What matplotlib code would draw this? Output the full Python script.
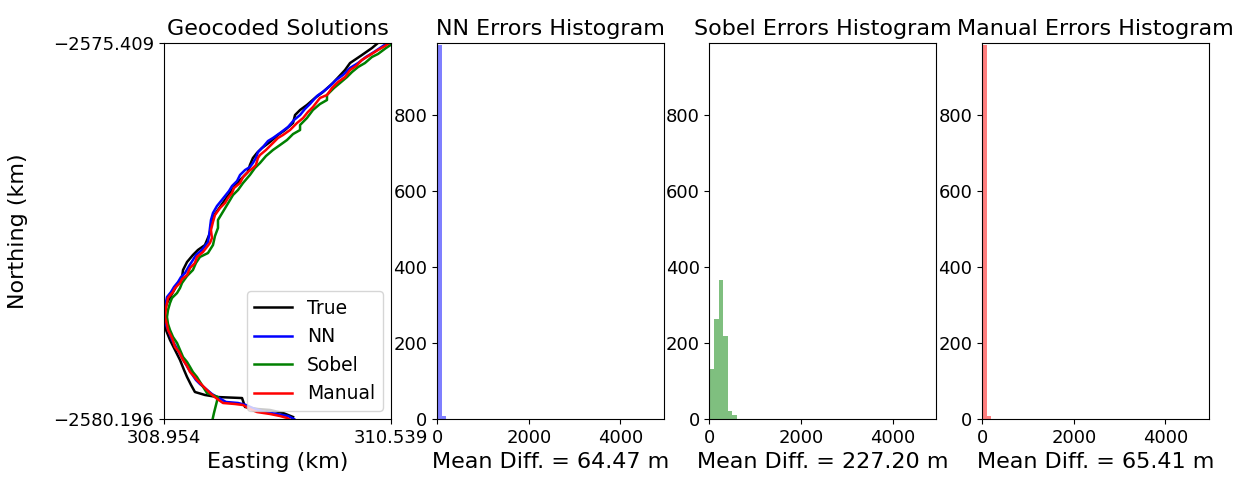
import numpy as np
import matplotlib
matplotlib.use("Agg")
import matplotlib.pyplot as plt

# ---- Geocoded track coordinates (km) ----
true_e = [310.490, 310.406, 310.336, 310.253, 310.218, 310.134, 310.064, 310.008, 309.952, 309.904,
          309.869, 309.855, 309.799, 309.750, 309.694, 309.638, 309.603, 309.575, 309.554, 309.540,
          309.499, 309.464, 309.429, 309.394, 309.345, 309.296, 309.282, 309.275, 309.240, 309.191,
          309.156, 309.115, 309.087, 309.080, 309.045, 309.017, 308.975, 308.954, 308.947, 308.968,
          308.996, 309.031, 309.066, 309.094, 309.115, 309.143, 309.170, 309.240, 309.324, 309.499,
          309.520, 309.610, 309.694, 309.785, 309.855]
true_n = [-2575.345, -2575.473, -2575.562, -2575.664, -2575.753, -2575.918, -2576.033, -2576.109,
          -2576.198, -2576.262, -2576.326, -2576.427, -2576.517, -2576.580, -2576.669, -2576.746,
          -2576.809, -2576.873, -2576.962, -2577.051, -2577.128, -2577.191, -2577.280, -2577.370,
          -2577.497, -2577.624, -2577.726, -2577.828, -2577.981, -2578.044, -2578.108, -2578.197,
          -2578.299, -2578.388, -2578.490, -2578.579, -2578.719, -2578.834, -2578.935, -2579.063,
          -2579.190, -2579.317, -2579.445, -2579.572, -2579.661, -2579.763, -2579.852, -2579.890,
          -2579.916, -2579.929, -2580.043, -2580.069, -2580.081, -2580.119, -2580.170]

nn_e = [310.546, 310.483, 310.420, 310.364, 310.309, 310.253, 310.204, 310.155, 310.113, 310.071,
        310.022, 309.973, 309.938, 309.904, 309.862, 309.820, 309.764, 309.715, 309.680, 309.645,
        309.610, 309.596, 309.575, 309.554, 309.520, 309.485, 309.464, 309.429, 309.408, 309.380,
        309.352, 309.324, 309.296, 309.282, 309.275, 309.268, 309.261, 309.219, 309.177, 309.156,
        309.129, 309.101, 309.073, 309.052, 309.024, 309.003, 308.975, 308.961, 308.954, 308.968,
        308.989, 309.010, 309.038, 309.066, 309.094, 309.122, 309.149, 309.177, 309.205, 309.247,
        309.289, 309.338, 309.387, 309.471, 309.527, 309.589, 309.659, 309.743, 309.820, 309.862]
nn_n = [-2575.371, -2575.447, -2575.524, -2575.587, -2575.664, -2575.727, -2575.816, -2575.880,
        -2575.956, -2576.020, -2576.084, -2576.186, -2576.249, -2576.326, -2576.389, -2576.478,
        -2576.555, -2576.618, -2576.657, -2576.733, -2576.797, -2576.873, -2576.937, -2576.988,
        -2577.026, -2577.089, -2577.166, -2577.230, -2577.293, -2577.357, -2577.421, -2577.484,
        -2577.573, -2577.662, -2577.764, -2577.866, -2577.942, -2578.044, -2578.108, -2578.172,
        -2578.248, -2578.337, -2578.388, -2578.452, -2578.515, -2578.579, -2578.643, -2578.770,
        -2578.885, -2578.999, -2579.088, -2579.190, -2579.279, -2579.368, -2579.457, -2579.547,
        -2579.623, -2579.699, -2579.750, -2579.814, -2579.878, -2579.929, -2579.979, -2579.992,
        -2580.018, -2580.069, -2580.107, -2580.132, -2580.158, -2580.196]

sobel_e = [310.546, 310.504, 310.448, 310.406, 310.357, 310.309, 310.267, 310.232, 310.183, 310.141,
           310.092, 310.092, 310.043, 309.994, 309.952, 309.904, 309.904, 309.855, 309.813, 309.764,
           309.715, 309.666, 309.624, 309.589, 309.554, 309.506, 309.471, 309.436, 309.415, 309.373,
           309.331, 309.331, 309.310, 309.296, 309.261, 309.205, 309.177, 309.156, 309.115, 309.080,
           309.066, 309.045, 309.010, 308.996, 308.982, 308.975, 308.982, 308.996, 309.017, 309.045,
           309.066, 309.087, 309.115, 309.136, 309.156, 309.184, 309.219, 309.254, 309.289, 309.331,
           309.317, 309.303, 309.289, 309.275]
sobel_n = [-2575.422, -2575.473, -2575.549, -2575.587, -2575.664, -2575.715, -2575.778, -2575.842,
           -2575.918, -2575.982, -2576.071, -2576.135, -2576.186, -2576.262, -2576.364, -2576.453,
           -2576.517, -2576.568, -2576.644, -2576.708, -2576.771, -2576.848, -2576.937, -2577.000,
           -2577.089, -2577.191, -2577.280, -2577.344, -2577.408, -2577.535, -2577.662, -2577.764,
           -2577.866, -2577.981, -2578.083, -2578.133, -2578.210, -2578.299, -2578.375, -2578.464,
           -2578.528, -2578.592, -2578.655, -2578.719, -2578.808, -2578.897, -2578.986, -2579.063,
           -2579.152, -2579.228, -2579.317, -2579.407, -2579.470, -2579.534, -2579.598, -2579.661,
           -2579.763, -2579.865, -2579.890, -2579.916, -2580.018, -2580.119, -2580.234, -2580.336]

manual_e = [310.546, 310.497, 310.448, 310.392, 310.336, 310.295, 310.253, 310.218, 310.169, 310.127,
            310.092, 310.043, 309.994, 309.959, 309.925, 309.883, 309.834, 309.785, 309.750, 309.715,
            309.666, 309.624, 309.610, 309.596, 309.575, 309.540, 309.506, 309.485, 309.443, 309.429,
            309.401, 309.380, 309.345, 309.310, 309.296, 309.282, 309.289, 309.275, 309.226, 309.184,
            309.170, 309.136, 309.115, 309.080, 309.066, 309.031, 309.017, 308.982, 308.968, 308.961,
            308.975, 308.982, 309.010, 309.031, 309.059, 309.087, 309.115, 309.136, 309.156, 309.184,
            309.205, 309.240, 309.275, 309.317, 309.366, 309.450, 309.506, 309.554, 309.603, 309.694,
            309.764, 309.813, 309.848]
manual_n = [-2575.384, -2575.447, -2575.498, -2575.562, -2575.625, -2575.702, -2575.753, -2575.842,
            -2575.906, -2575.982, -2576.071, -2576.109, -2576.224, -2576.287, -2576.364, -2576.427,
            -2576.517, -2576.580, -2576.618, -2576.682, -2576.771, -2576.835, -2576.873, -2576.962,
            -2577.000, -2577.051, -2577.115, -2577.191, -2577.255, -2577.319, -2577.382, -2577.446,
            -2577.510, -2577.599, -2577.688, -2577.790, -2577.892, -2577.955, -2578.070, -2578.133,
            -2578.210, -2578.273, -2578.363, -2578.414, -2578.464, -2578.528, -2578.579, -2578.655,
            -2578.783, -2578.897, -2578.999, -2579.063, -2579.165, -2579.279, -2579.343, -2579.445,
            -2579.521, -2579.598, -2579.636, -2579.699, -2579.738, -2579.801, -2579.865, -2579.929,
            -2579.992, -2580.005, -2580.018, -2580.069, -2580.107, -2580.132, -2580.158, -2580.183,
            -2580.221]

east_lim = [308.954, 310.539]
north_lim = [-2580.196, -2575.409]

# ---- Error histograms (counts per 99 m bin, starting at 0 m) ----
bin_width = 99.0
n_bins = 50
nn_counts = [985, 8]
sobel_counts = [131, 263, 366, 218, 22, 10]
manual_counts = [984, 9]
mean_diffs = [64.47, 227.20, 65.41]
hist_titles = ["NN Errors Histogram", "Sobel Errors Histogram", "Manual Errors Histogram"]
hist_colors = ["b", "g", "r"]
hist_xticks = [0, 2000, 4000]
hist_yticks = [0, 200, 400, 600, 800]
count_max = 990

TICK = 13
LABEL = 16

fig = plt.figure(figsize=(12.48, 4.87), dpi=100)
lefts = [0.1314, 0.3502, 0.5685, 0.7869]
bottom, width, height = 0.1396, 0.1819, 0.7721
axes = [fig.add_axes([l, bottom, width, height]) for l in lefts]

ax = axes[0]
lw = 1.8
ax.plot(true_e, true_n, color="k", lw=lw, label="True")
ax.plot(nn_e, nn_n, color="b", lw=lw, label="NN")
ax.plot(sobel_e, sobel_n, color="g", lw=lw, label="Sobel")
ax.plot(manual_e, manual_n, color="r", lw=lw, label="Manual")
ax.set_xlim(east_lim)
ax.set_ylim(north_lim)
ax.set_xticks(east_lim)
ax.set_xticklabels([f"{v:.3f}" for v in east_lim])
ax.set_yticks(north_lim)
ax.set_yticklabels([f"\u2212{abs(v):.3f}" for v in north_lim])
ax.tick_params(labelsize=TICK)
ax.set_title("Geocoded Solutions", fontsize=LABEL)
ax.set_xlabel("Easting (km)", fontsize=LABEL)
ax.set_ylabel("Northing (km)", fontsize=LABEL, labelpad=18)
ax.legend(loc="lower right", fontsize=13.5, borderaxespad=0.45)

edges = np.arange(n_bins + 1) * bin_width
all_counts = [nn_counts, sobel_counts, manual_counts]
for ax, counts, col, title, md in zip(axes[1:], all_counts, hist_colors, hist_titles, mean_diffs):
    centers = edges[:len(counts)] + bin_width / 2
    ax.hist(centers, bins=edges, weights=counts, color=col, alpha=0.5)
    ax.set_xlim(0, edges[-1])
    ax.set_ylim(0, count_max)
    ax.set_xticks(hist_xticks)
    ax.set_yticks(hist_yticks)
    ax.tick_params(labelsize=TICK)
    ax.set_title(title, fontsize=LABEL)
    ax.set_xlabel(f"Mean Diff. = {md:.2f} m", fontsize=LABEL)

fig.savefig("out.png", dpi=100)
